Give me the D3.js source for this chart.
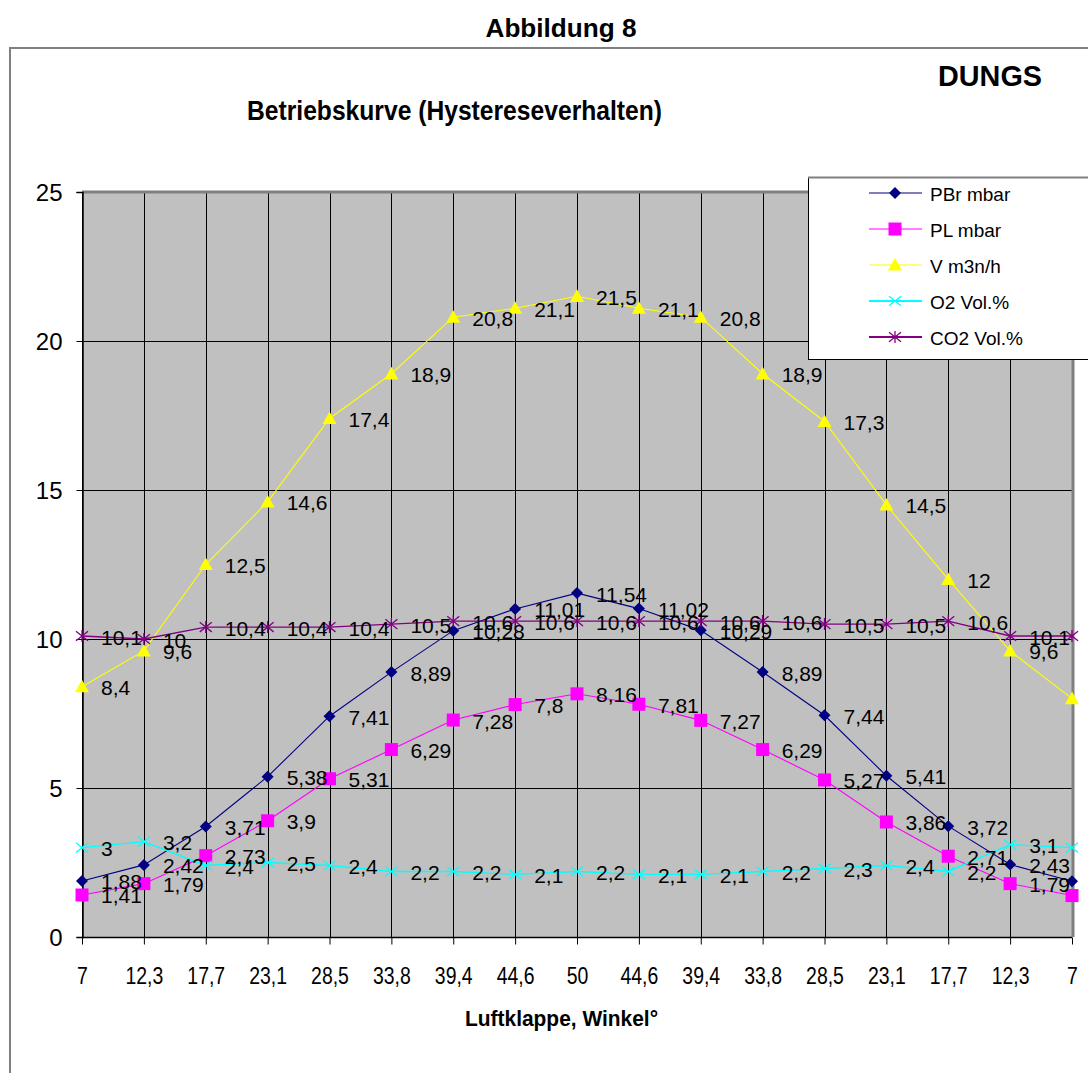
<!DOCTYPE html>
<html>
<head>
<meta charset="utf-8">
<script src="https://cdn.jsdelivr.net/npm/d3@7"></script>
<style>
  html, body { margin: 0; padding: 0; background: #fff; }
  svg { display: block; font-family: Arial, "Liberation Sans", sans-serif; }
</style>
</head>
<body>
<svg id="chart" width="1088" height="1073"></svg>
<script>
// Flap angle (degrees) – opening then closing again
const categories = ["7", "12,3", "17,7", "23,1", "28,5", "33,8", "39,4", "44,6", "50",
                    "44,6", "39,4", "33,8", "28,5", "23,1", "17,7", "12,3", "7"];

const pbrValues = [1.88, 2.42, 3.71, 5.38, 7.41, 8.89, 10.28, 11.01, 11.54,
                   11.02, 10.29, 8.89, 7.44, 5.41, 3.72, 2.43, 1.87];
const plValues  = [1.41, 1.79, 2.73, 3.9, 5.31, 6.29, 7.28, 7.8, 8.16,
                   7.81, 7.27, 6.29, 5.27, 3.86, 2.71, 1.79, 1.39];
const vValues   = [8.4, 9.6, 12.5, 14.6, 17.4, 18.9, 20.8, 21.1, 21.5,
                   21.1, 20.8, 18.9, 17.3, 14.5, 12, 9.6, 8];
const o2Values  = [3, 3.2, 2.4, 2.5, 2.4, 2.2, 2.2, 2.1, 2.2,
                   2.1, 2.1, 2.2, 2.3, 2.4, 2.2, 3.1, 3];
const co2Values = [10.1, 10, 10.4, 10.4, 10.4, 10.5, 10.6, 10.6, 10.6,
                   10.6, 10.6, 10.6, 10.5, 10.5, 10.6, 10.1, 10.1];

const yTicks = [0, 5, 10, 15, 20, 25];

const seriesNames  = ["PBr mbar", "PL mbar", "V m3n/h", "O2 Vol.%", "CO2 Vol.%"];
const seriesColors = ["#000080", "#FF00FF", "#FFFF00", "#00FFFF", "#800080"];
const seriesMarkers = ["diamond", "square", "triangle", "cross", "star"];
const seriesValues = [pbrValues, plValues, vValues, o2Values, co2Values];

const svg = d3.select("#chart");

const plot = { left: 82, right: 1072, top: 192, bottom: 937 };

const x = d3.scalePoint()
  .domain(d3.range(categories.length))
  .range([plot.left, plot.right]);

const y = d3.scaleLinear()
  .domain([0, 25])
  .range([plot.bottom, plot.top]);

const fmt = v => String(v).replace(".", ",");

// outer chart frame
svg.append("path")
  .attr("d", "M10,1073 V48 H1088")
  .attr("fill", "none")
  .attr("stroke", "#808080")
  .attr("stroke-width", 2);

// titles
svg.append("text")
  .attr("x", 561).attr("y", 37)
  .attr("text-anchor", "middle")
  .attr("font-size", 25).attr("font-weight", "bold")
  .attr("textLength", 151).attr("lengthAdjust", "spacingAndGlyphs")
  .text("Abbildung 8");

svg.append("text")
  .attr("x", 938).attr("y", 86)
  .attr("font-size", 30).attr("font-weight", "bold")
  .attr("textLength", 104).attr("lengthAdjust", "spacingAndGlyphs")
  .text("DUNGS");

svg.append("text")
  .attr("x", 247).attr("y", 120)
  .attr("font-size", 28).attr("font-weight", "bold")
  .attr("textLength", 415).attr("lengthAdjust", "spacingAndGlyphs")
  .text("Betriebskurve (Hystereseverhalten)");

svg.append("text")
  .attr("x", 465).attr("y", 1026)
  .attr("font-size", 22).attr("font-weight", "bold")
  .attr("textLength", 193).attr("lengthAdjust", "spacingAndGlyphs")
  .text("Luftklappe, Winkel°");

// plot area
svg.append("rect")
  .attr("x", plot.left).attr("y", plot.top)
  .attr("width", plot.right - plot.left).attr("height", plot.bottom - plot.top)
  .attr("fill", "#C0C0C0");

const grid = svg.append("g").attr("stroke", "#000").attr("stroke-width", 1).attr("shape-rendering", "crispEdges");
grid.selectAll("line.h").data(yTicks).join("line")
  .attr("class", "h")
  .attr("x1", plot.left).attr("x2", plot.right)
  .attr("y1", d => Math.round(y(d)) + 0.5).attr("y2", d => Math.round(y(d)) + 0.5);
grid.selectAll("line.v").data(d3.range(categories.length)).join("line")
  .attr("class", "v")
  .attr("x1", d => Math.round(x(d)) + 0.5).attr("x2", d => Math.round(x(d)) + 0.5)
  .attr("y1", plot.top).attr("y2", plot.bottom);

// plot area border (top / right)
svg.append("path")
  .attr("d", `M${plot.left},${plot.top} H${plot.right + 1} V${plot.bottom}`)
  .attr("fill", "none")
  .attr("stroke", "#808080")
  .attr("stroke-width", 3);

// axes
const yAxis = svg.append("g")
  .attr("transform", `translate(${plot.left + 0.5},0)`)
  .call(d3.axisLeft(y).tickValues(yTicks).tickSize(6).tickPadding(14).tickFormat(d => d));
const xAxis = svg.append("g")
  .attr("transform", `translate(0,${plot.bottom + 0.5})`)
  .call(d3.axisBottom(x).tickSize(7).tickPadding(22).tickFormat(i => categories[i]));

[yAxis, xAxis].forEach(ax => {
  ax.select(".domain").attr("stroke", "#000").attr("stroke-width", 1.5);
  ax.selectAll(".tick line").attr("stroke", "#000");
  ax.selectAll(".tick text")
    .attr("fill", "#000")
    .attr("font-family", "Arial, 'Liberation Sans', sans-serif");
});
yAxis.selectAll(".tick text").attr("font-size", 24).attr("dy", "0.34em");
xAxis.selectAll(".tick text").attr("font-size", 24).attr("transform", "scale(0.81,1)");
xAxis.select(".domain").attr("d", `M${plot.left},0H${plot.right}`);

// marker shapes
function marker(sel, type, color, size) {
  const s = size;
  if (type === "diamond") {
    sel.append("path").attr("d", `M0,${-s}L${s},0L0,${s}L${-s},0Z`).attr("fill", color);
  } else if (type === "square") {
    sel.append("rect").attr("x", -s).attr("y", -s).attr("width", 2 * s).attr("height", 2 * s).attr("fill", color);
  } else if (type === "triangle") {
    sel.append("path").attr("d", `M0,${-s}L${s},${s * 0.8}L${-s},${s * 0.8}Z`).attr("fill", color);
  } else if (type === "cross") {
    sel.append("path").attr("d", `M${-s},${-s * 0.8}L${s},${s * 0.8}M${-s},${s * 0.8}L${s},${-s * 0.8}`)
      .attr("stroke", color).attr("stroke-width", 1.3).attr("fill", "none");
  } else if (type === "star") {
    sel.append("path").attr("d", `M${-s},${-s * 0.8}L${s},${s * 0.8}M${-s},${s * 0.8}L${s},${-s * 0.8}M0,${-s}V${s}`)
      .attr("stroke", color).attr("stroke-width", 1.3).attr("fill", "none");
  }
}
const markerSize = [6, 6.5, 7, 6, 6];

const line = d3.line().x((d, i) => x(i)).y(d => y(d));

seriesValues.forEach((vals, k) => {
  const g = svg.append("g");
  g.append("path")
    .datum(vals)
    .attr("d", line)
    .attr("fill", "none")
    .attr("stroke", seriesColors[k])
    .attr("stroke-width", k >= 3 ? 1.4 : 1.1);
  g.selectAll("g.m").data(vals).join("g")
    .attr("class", "m")
    .attr("transform", (d, i) => `translate(${x(i)},${y(d)})`)
    .each(function () { marker(d3.select(this), seriesMarkers[k], seriesColors[k], markerSize[k]); });
});

// value labels
seriesValues.forEach((vals, k) => {
  svg.append("g").selectAll("text").data(vals).join("text")
    .attr("x", (d, i) => x(i) + 19)
    .attr("y", d => y(d) + 1)
    .attr("dominant-baseline", "central")
    .attr("font-size", 21)
    .attr("fill", "#000")
    .text(d => fmt(d));
});

// legend
const legend = svg.append("g").attr("transform", "translate(808,177)");
legend.append("rect")
  .attr("x", 0.5).attr("y", 0.5).attr("width", 300).attr("height", 182)
  .attr("fill", "#fff").attr("stroke", "#000").attr("stroke-width", 1);
legend.append("line")
  .attr("x1", 0).attr("x2", 300).attr("y1", 0.5).attr("y2", 0.5)
  .attr("stroke", "#808080").attr("stroke-width", 2);
seriesNames.forEach((name, k) => {
  const row = legend.append("g").attr("transform", `translate(0,${16 + k * 36})`);
  row.append("line")
    .attr("x1", 61).attr("x2", 114).attr("y1", 0).attr("y2", 0)
    .attr("stroke", seriesColors[k]).attr("stroke-width", k >= 3 ? 1.8 : 1.2);
  const m = row.append("g").attr("transform", "translate(87,0)");
  marker(m, seriesMarkers[k], seriesColors[k], markerSize[k]);
  row.append("text")
    .attr("x", 122).attr("y", 1)
    .attr("dominant-baseline", "central")
    .attr("font-size", 19)
    .attr("fill", "#000")
    .text(name);
});
</script>
</body>
</html>
